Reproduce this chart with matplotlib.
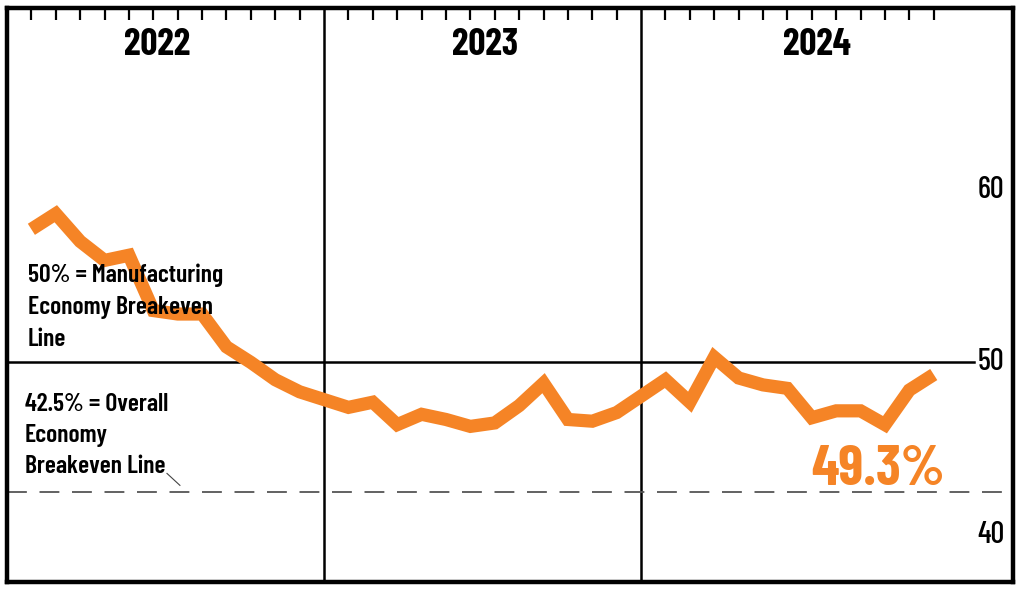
import matplotlib
matplotlib.use("Agg")
import matplotlib.pyplot as plt

years = ["2022", "2023", "2024"]
months = ["Jan", "Feb", "Mar", "Apr", "May", "Jun", "Jul", "Aug", "Sep", "Oct", "Nov", "Dec"]
pmi_2022 = [57.7, 58.6, 57.0, 55.9, 56.2, 53.0, 52.8, 52.8, 50.9, 50.0, 49.0, 48.3]
pmi_2023 = [47.4, 47.7, 46.4, 47.0, 46.7, 46.3, 46.5, 47.5, 48.8, 46.7, 46.6, 47.1]
pmi_2024 = [49.0, 47.7, 50.3, 49.1, 48.7, 48.5, 46.8, 47.2, 47.2, 46.4, 48.4, 49.3]
y_ticks = [40, 50, 60]
mfg_breakeven = 50
overall_breakeven = 42.5
latest_label = "49.3%"

ORANGE = "#f58426"
plt.rcParams["font.family"] = ["Barlow Condensed", "DejaVu Sans"]

# each year takes 13 slots: 12 months plus the divider slot
slot = 13
xs, ys = [], []
for yi, vals in enumerate([pmi_2022, pmi_2023, pmi_2024]):
    for mi, v in enumerate(vals):
        xs.append(yi * slot + mi + 1)
        ys.append(v)

fig = plt.figure(figsize=(10.24, 5.9), dpi=100)
ax = fig.add_axes([7 / 1024, 8 / 590, 1006 / 1024, 574 / 590])
ax.set_xlim(0, 41.25)
ax.set_ylim(37.3, 70.5)

for s in ax.spines.values():
    s.set_linewidth(3.2)
ax.set_xticks([])
ax.set_yticks([])

# month ticks hanging from the top edge
for yi in range(len(years)):
    for mi in range(len(months)):
        ax.plot([yi * slot + mi + 1] * 2, [70.5, 69.8], color="black", lw=1.6,
                clip_on=False, solid_capstyle="butt")

# year dividers
for yi in range(1, len(years)):
    ax.axvline(yi * slot, color="black", lw=1.8)

# year labels
year_pos = [6.15, 19.6, 33.2]
for yp, yr in zip(year_pos, years):
    ax.text(yp, 68.35, yr, ha="center", va="center", fontsize=27,
            fontweight="bold")

# breakeven lines
ax.plot([0, 39.65], [mfg_breakeven] * 2, color="black", lw=1.8)
ax.axhline(overall_breakeven, color="#555555", lw=1.3, dashes=(11, 7))

# y labels on the right inside plot
for t in y_ticks:
    ax.text(40.35, t, str(t), ha="center", va="center", fontsize=22,
            fontweight="medium")

ax.plot(xs, ys, color=ORANGE, lw=9.5, solid_joinstyle="miter",
        solid_capstyle="butt", zorder=3)

ax.text(0.86, 55.75, "50% = Manufacturing\nEconomy Breakeven\nLine", ha="left",
        va="top", fontsize=18.5, fontweight="semibold", linespacing=1.5, zorder=4)
ax.text(0.74, 48.25, "42.5% = Overall\nEconomy\nBreakeven Line", ha="left",
        va="top", fontsize=18.5, fontweight="semibold", linespacing=1.45, zorder=4)
ax.plot([6.56, 7.09], [43.58, 42.89], color="#444444", lw=0.8)

ax.text(38.45, 42.9, latest_label, ha="right", va="baseline", fontsize=41,
        fontweight="bold", color=ORANGE)

fig.savefig("out.png", dpi=100)
